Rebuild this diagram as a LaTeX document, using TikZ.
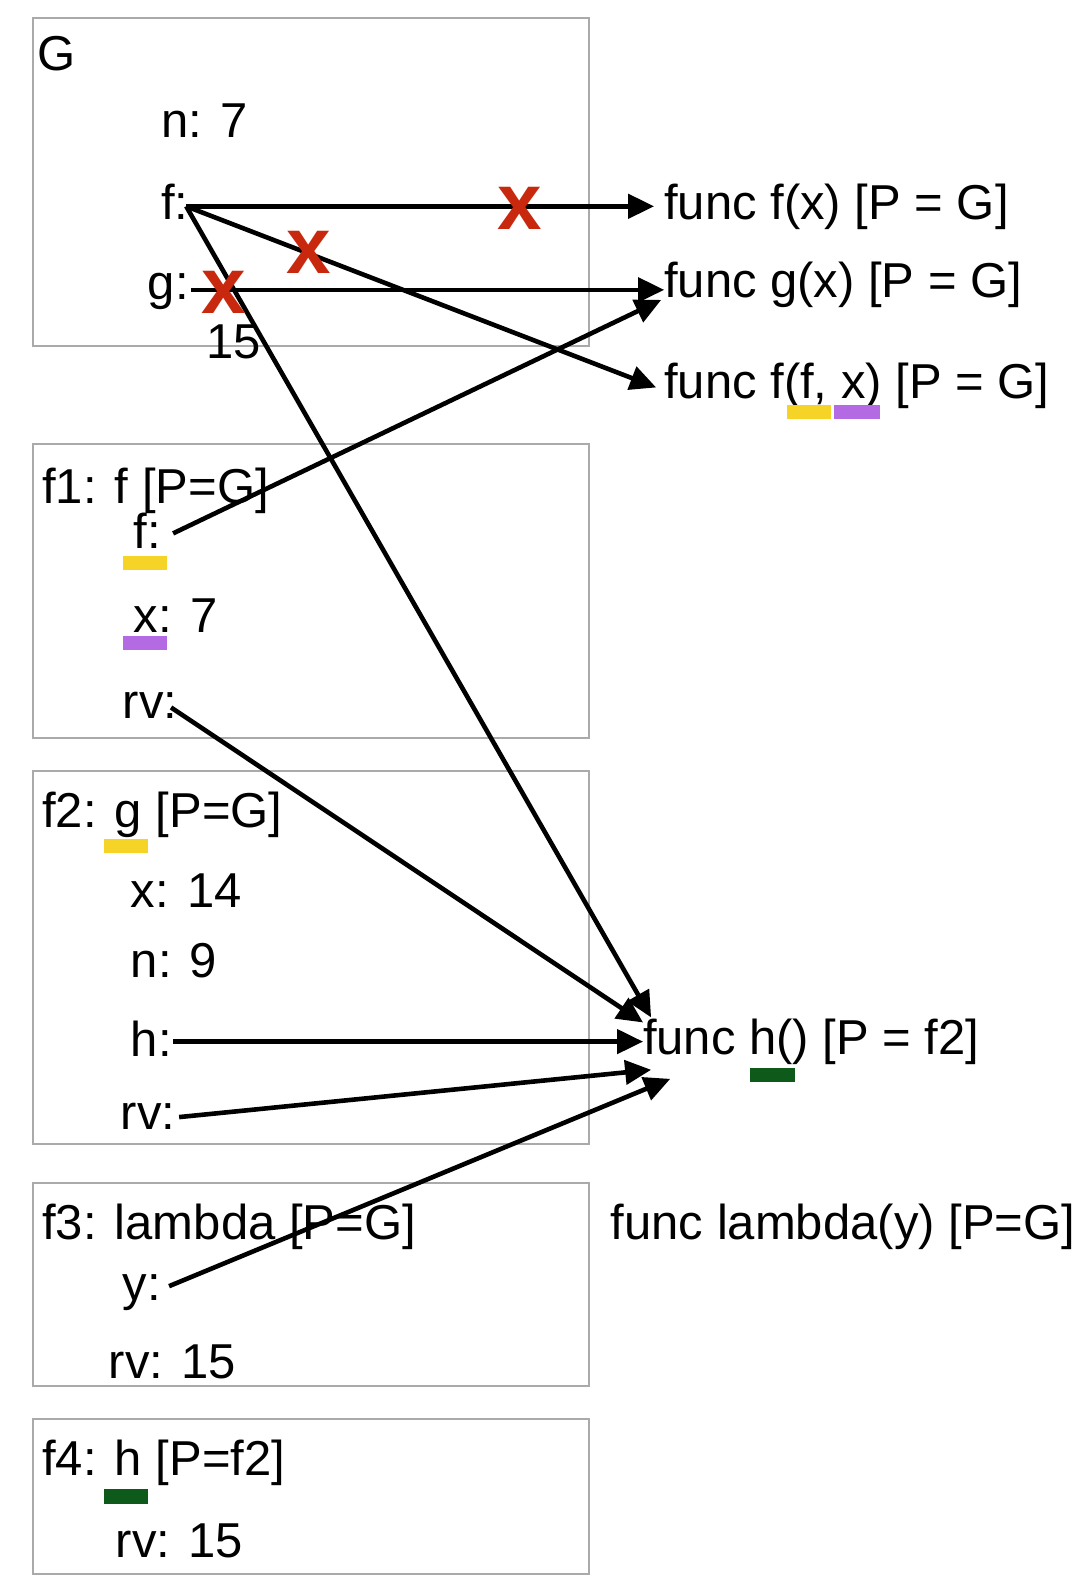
\documentclass[tikz,border=0pt]{standalone}
\usepackage{fontspec}
\setmainfont{Liberation Sans}
\usetikzlibrary{arrows.meta,calc}
\definecolor{framegray}{HTML}{AAAAAA}
\definecolor{xred}{HTML}{C8290E}
\definecolor{hlyellow}{HTML}{F5D327}
\definecolor{hlpurple}{HTML}{B36AE2}
\definecolor{hlgreen}{HTML}{0E5A1A}
\begin{document}
\begin{tikzpicture}[x=0.50326pt,y=-0.50326pt,
  frame/.style={draw=framegray,line width=1pt},
  lbl/.style={inner sep=0pt,outer sep=0pt,anchor=base west,
    font=\fontsize{24.5}{29}\selectfont},
  ptr/.style={line width=2.3pt,-{Triangle[length=13pt,width=12pt]}},
  cross/.style={inner sep=0pt,text=xred,
    font=\fontsize{40}{40}\selectfont\bfseries}]
\useasboundingbox (0,0) rectangle (1073,1568);

% frames
\draw[frame] (33,18) rectangle (585,344);
\draw[frame] (33,441) rectangle (585,733);
\draw[frame] (33,766) rectangle (585,1137);
\draw[frame] (33,1175) rectangle (585,1377);
\draw[frame] (33,1410) rectangle (585,1564);

% global frame
\node[lbl] (Gt) at (37,70) {G};
\node[lbl] (Gn) at (160,137) {n: 7};
\node[lbl] (Gf) at (160,218) {f:};
\node[lbl] (Gg) at (147,298) {g:};
\node[lbl] (G15) at (205,356) {15};

% function values
\node[lbl] (funcf) at (660,218) {func f(x) [P = G]};
\node[lbl] (funcg) at (660,296) {func g(x) [P = G]};
\node[lbl] (funcff) at (660,396) {func f(f, x) [P = G]};
\node[lbl] (funch) at (639,1048) {func h() [P = f2]};
\node[lbl] (funcl) at (607,1232) {func lambda(y) [P=G]};

% f1
\node[lbl] (Ft) at (42,500) {f1: f [P=G]};
\node[lbl] (Ff) at (133,545) {f:};
\node[lbl] (Fx) at (133,628) {x: 7};
\node[lbl] (Frv) at (122,714) {rv:};

% f2
\node[lbl] (Ht) at (42,822) {f2: g [P=G]};
\node[lbl] (Hx) at (130,902) {x: 14};
\node[lbl] (Hn) at (130,971) {n: 9};
\node[lbl] (Hh) at (130,1050) {h:};
\node[lbl] (Hrv) at (120,1122) {rv:};

% f3
\node[lbl] (Lt) at (42,1232) {f3: lambda [P=G]};
\node[lbl] (Ly) at (122,1292) {y:};
\node[lbl] (Lrv) at (108,1370) {rv: 15};

% f4
\node[lbl] (Kt) at (42,1466) {f4: h [P=f2]};
\node[lbl] (Krv) at (115,1548) {rv: 15};

% highlight bars
\fill[hlyellow] (122,552) rectangle (166,566);
\fill[hlpurple] (122,632) rectangle (166,646);
\fill[hlyellow] (103,834) rectangle (147,848);
\fill[hlgreen] (103,1480) rectangle (147,1494);
\fill[hlgreen] (745,1061) rectangle (790,1075);
\fill[hlyellow] (782,402) rectangle (826,416);
\fill[hlpurple] (829,402) rectangle (874,416);

% pointers
\draw[ptr] ($(Gf.base west)+(25,-13)$) -- ($(funcf.base west)+(-10,-13)$);
\draw[ptr] ($(Gg.base west)+(43,-10)$) -- ($(funcg.base west)+(0,-8)$);
\draw[ptr] ($(Gf.base west)+(25,-13)$) -- ($(funcff.base west)+(-8,-11)$);
\draw[ptr] ($(Gf.base west)+(25,-13)$) -- ($(funch.base west)+(8,-37)$);
\draw[ptr] ($(Ff.base west)+(39,-15)$) -- ($(funcg.base west)+(-3,2)$);
\draw[ptr] ($(Frv.base west)+(48,-11)$) -- ($(funch.base west)+(0,-32)$);
\draw[ptr] ($(Hh.base west)+(42,-15)$) -- ($(funch.base west)+(0,-13)$);
\draw[ptr] ($(Hrv.base west)+(58,-12)$) -- ($(funch.base west)+(8,15)$);
\draw[ptr] ($(Ly.base west)+(46,-14)$) -- ($(funch.base west)+(27,24)$);

% crossed-out bindings
\node[cross] (X1) at (516,207) {x};
\node[cross] (X2) at (307,251) {x};
\node[cross] (X3) at (222,291) {x};
\end{tikzpicture}
\end{document}
